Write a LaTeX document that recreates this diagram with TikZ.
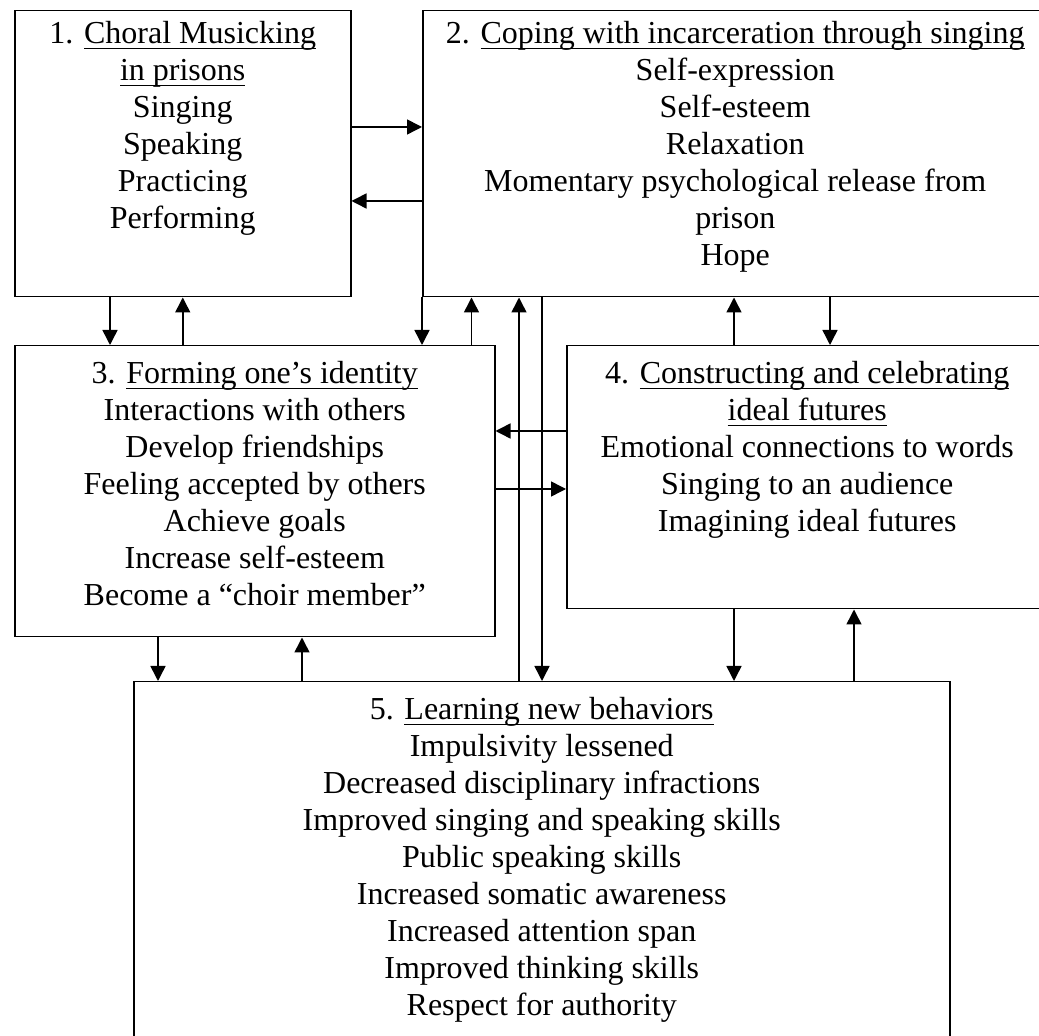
\documentclass[tikz,border=0pt]{standalone}
\usepackage{fontspec}
\setmainfont{Liberation Serif}
\usepackage{tikz}
\usetikzlibrary{positioning,calc,arrows.meta}

\newsavebox{\ulbox}
\newcommand{\ulin}[1]{\sbox{\ulbox}{#1}\rlap{\rule[-2.9pt]{\wd\ulbox}{0.75pt}}\usebox{\ulbox}}

\begin{document}
\begin{tikzpicture}[x=0.5pt,y=-0.5pt,
    box/.style={draw,line width=0.75pt,inner sep=0pt,anchor=north west},
    txt/.style={inner sep=0pt,align=center,anchor=north,font=\fontsize{16pt}{18.5pt}\selectfont},
    arr/.style={line width=0.75pt,-{Triangle[length=7.5pt,width=7.5pt]}}]
    \useasboundingbox (0,0) rectangle (1039,1036);
    \clip (0,0) rectangle (1039,1036);

    % Boxes
    \node[box,minimum width=168pt,minimum height=143pt] (choral) at (14,10) {};
    \node[box,minimum width=312.5pt,minimum height=143pt] (coping) at (422,10) {};
    \node[box,minimum width=240pt,minimum height=145.5pt] (identity) at (14,345) {};
    \node[box,minimum width=240.5pt,minimum height=131.5pt] (futures) at (566,345) {};
    \node[box,minimum width=408pt,minimum height=189.5pt] (behav) at (133,681) {};

    % Texts
    \node[txt,below=5.5pt of choral.north] (choraltxt) {1. \ulin{Choral Musicking}\\ \ulin{in prisons}\\ Singing\\ Speaking\\ Practicing\\ Performing};
    \node[txt,below=5.5pt of coping.north] (copingtxt) {2. \ulin{Coping with incarceration through singing}\\ Self-expression\\ Self-esteem\\ Relaxation\\ Momentary psychological release from\\ prison\\ Hope};
    \node[txt,below=8pt of identity.north] (identitytxt) {3. \ulin{Forming one’s identity}\\ Interactions with others\\ Develop friendships\\ Feeling accepted by others\\ Achieve goals\\ Increase self-esteem\\ Become a “choir member”};
    \node[txt,below=8pt of futures.north] (futurestxt) {4. \ulin{Constructing and celebrating}\\ \ulin{ideal futures}\\ Emotional connections to words\\ Singing to an audience\\ Imagining ideal futures};
    \node[txt,below=8pt of behav.north] (behavtxt) {5. \ulin{Learning new behaviors}\\ Impulsivity lessened\\ Decreased disciplinary infractions\\ Improved singing and speaking skills\\ Public speaking skills\\ Increased somatic awareness\\ Increased attention span\\ Improved thinking skills\\ Respect for authority};

    % Arrows between 1 and 2
    \coordinate (a1) at ([yshift=-58.5pt]choral.north east);
    \coordinate (a2) at ([yshift=-95.5pt]choral.north east);
    \draw[arr] (a1) -- (a1 -| coping.west);
    \draw[arr] (a2 -| coping.west) -- (a2);

    % Arrows between 1 and 3
    \coordinate (a3) at ([xshift=48pt]choral.south west);
    \draw[arr] (a3) -- (a3 |- identity.north);
    \draw[arr] (choral.south |- identity.north) -- (choral.south);

    % Arrows between 2 and 3
    \draw[arr] (coping.south west) -- (coping.south west |- identity.north);
    \coordinate (a6) at ([xshift=-12pt]identity.north east);
    \draw[arr] (a6) -- (a6 |- coping.south);

    % Arrows between 2 and 5
    \coordinate (a7) at ([xshift=48.5pt]coping.south west);
    \coordinate (a8) at ([xshift=60pt]coping.south west);
    \draw[arr] (a7 |- behav.north) -- (a7);
    \draw[arr] (a8) -- (a8 |- behav.north);

    % Arrows between 2 and 4
    \coordinate (a9) at ([xshift=84pt]futures.north west);
    \coordinate (a10) at ([xshift=132pt]futures.north west);
    \draw[arr] (a9) -- (a9 |- coping.south);
    \draw[arr] (a10 |- coping.south) -- (a10);

    % Arrows between 3 and 4
    \coordinate (a11) at ([yshift=-43pt]futures.north west);
    \coordinate (a12) at ([yshift=-72pt]futures.north west);
    \draw[arr] (a11) -- (a11 -| identity.east);
    \draw[arr] (a12 -| identity.east) -- (a12);

    % Arrows between 3 and 5
    \coordinate (a13) at ([xshift=72pt]identity.south west);
    \coordinate (a14) at ([xshift=84.5pt]behav.north west);
    \draw[arr] (a13) -- (a13 |- behav.north);
    \draw[arr] (a14) -- (a14 |- identity.south);

    % Arrows between 4 and 5
    \coordinate (a15) at ([xshift=84pt]futures.south west);
    \coordinate (a16) at ([xshift=144pt]futures.south west);
    \draw[arr] (a15) -- (a15 |- behav.north);
    \draw[arr] (a16 |- behav.north) -- (a16);
\end{tikzpicture}
\end{document}
